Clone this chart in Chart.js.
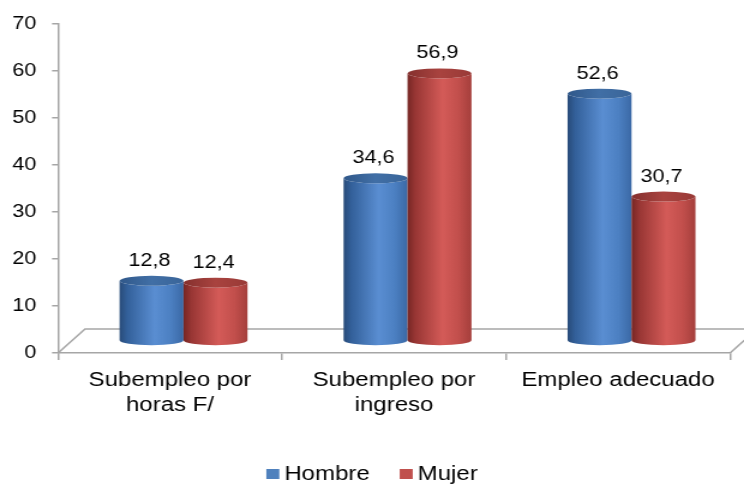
<!DOCTYPE html>
<html><head><meta charset="utf-8">
<script src="https://cdn.jsdelivr.net/npm/chart.js@4.4.1/dist/chart.umd.min.js"></script>
<style>html,body{margin:0;padding:0;background:#fff;overflow:hidden}</style>
</head><body>
<canvas id="c" width="620" height="484" style="display:block;width:744px;height:484px"></canvas>
<script>
// ---- data ----
const categories = [["Subempleo por", "horas F/"], ["Subempleo por", "ingreso"], "Empleo adecuado"];
const seriesNames = ["Hombre", "Mujer"];
const hombre = [12.8, 34.6, 52.6];
const mujer = [12.4, 56.9, 30.7];
const yTicks = [0, 10, 20, 30, 40, 50, 60, 70];

// ---- style ----
const SX = 1.2;               // horizontal stretch of the picture
const DEPTH_X = 27 / SX, DEPTH_Y = 24;
const AXIS = '#A6A6A6';
const FONT = '"Liberation Sans", Arial, sans-serif';
const legendColors = ['#4F81BD', '#C0504D'];
const bodyStops = [
  [[0, '#284B79'], [0.12, '#33609A'], [0.55, '#5A8ED2'], [0.8, '#4C80C2'], [1, '#3B69A6']],
  [[0, '#762624'], [0.12, '#983634'], [0.55, '#D45B58'], [0.8, '#C24F4C'], [1, '#A53F3C']]
];
const topStops = [
  [[0, '#30588A'], [0.5, '#416FA6'], [1, '#3A6599']],
  [[0, '#85302E'], [0.5, '#A9433F'], [1, '#993A37']]
];

Chart.defaults.font.family = FONT;
Chart.defaults.color = '#000';

function grad(ctx, x0, x1, stops) {
  const g = ctx.createLinearGradient(x0, 0, x1, 0);
  stops.forEach(([o, c]) => g.addColorStop(o, c));
  return g;
}

function drawCyl(ctx, cx, top, base, w, di) {
  const rx = w / 2, ry = 5;
  ctx.beginPath();
  ctx.moveTo(cx - rx, top);
  ctx.lineTo(cx - rx, base);
  ctx.ellipse(cx, base, rx, ry, 0, Math.PI, 0, true);
  ctx.lineTo(cx + rx, top);
  ctx.ellipse(cx, top, rx, ry, 0, 0, Math.PI, false);
  ctx.closePath();
  ctx.fillStyle = grad(ctx, cx - rx, cx + rx, bodyStops[di]);
  ctx.fill();
  ctx.beginPath();
  ctx.ellipse(cx, top, rx, ry, 0, 0, Math.PI * 2);
  ctx.fillStyle = grad(ctx, cx - rx, cx + rx, topStops[di]);
  ctx.fill();
}

const cylPlugin = {
  id: 'cyl3d',
  beforeDatasetsDraw(chart) {
    const { ctx, chartArea: { left, right, bottom } } = chart;
    ctx.save();
    // floor
    ctx.strokeStyle = AXIS;
    ctx.lineWidth = 1.5;
    ctx.beginPath();
    ctx.moveTo(left, bottom);
    ctx.lineTo(left + DEPTH_X, bottom - DEPTH_Y);
    ctx.lineTo(right + DEPTH_X, bottom - DEPTH_Y);
    ctx.moveTo(right, bottom);
    ctx.lineTo(right + DEPTH_X, bottom - DEPTH_Y);
    ctx.stroke();
    // cylinders
    const ox = DEPTH_X / 2, oy = -DEPTH_Y / 2;
    chart.data.datasets.forEach((ds, di) => {
      const meta = chart.getDatasetMeta(di);
      meta.data.forEach((el) => {
        drawCyl(ctx, el.x + ox, el.y + oy, el.base + oy, el.width, di);
      });
    });
    // labels
    ctx.fillStyle = '#000';
    ctx.font = '18px ' + FONT;
    ctx.textAlign = 'center';
    ctx.textBaseline = 'middle';
    chart.data.datasets.forEach((ds, di) => {
      const meta = chart.getDatasetMeta(di);
      meta.data.forEach((el, i) => {
        const txt = ds.data[i].toFixed(1).replace('.', ',');
        ctx.fillText(txt, el.x + ox - 2 / SX, el.y + oy - 20);
      });
    });
    ctx.restore();
    return false;
  },
  afterDraw(chart) {
    const { ctx } = chart;
    ctx.save();
    ctx.font = '20px ' + FONT;
    ctx.textBaseline = 'middle';
    const box = 13 / SX, gap = 5 / SX, itemGap = 30 / SX;
    const items = chart.data.datasets.map((ds, i) => ({ label: ds.label, color: legendColors[i], w: ctx.measureText(ds.label).width }));
    const total = items.reduce((s, it) => s + box + gap + it.w, 0) + itemGap * (items.length - 1);
    let x = chart.width / 2 - total / 2;
    const y = 474;
    items.forEach((it) => {
      ctx.fillStyle = it.color;
      ctx.fillRect(x, y - 5, box, 10);
      x += box + gap;
      ctx.fillStyle = '#000';
      ctx.fillText(it.label, x, y);
      x += it.w + itemGap;
    });
    ctx.restore();
  }
};

new Chart(document.getElementById('c'), {
  type: 'bar',
  data: {
    labels: categories,
    datasets: [
      { label: seriesNames[0], data: hombre, backgroundColor: legendColors[0] },
      { label: seriesNames[1], data: mujer, backgroundColor: legendColors[1] }
    ]
  },
  options: {
    responsive: false,
    devicePixelRatio: 1,
    animation: false,
    events: [],
    layout: { padding: { left: 0, right: 620 - 730 / SX, top: 22, bottom: 0 } },
    datasets: { bar: { categoryPercentage: 0.571, barPercentage: 1 } },
    plugins: { legend: { display: false }, tooltip: { enabled: false } },
    scales: {
      x: {
        offset: true,
        grid: { display: true, drawOnChartArea: false, drawTicks: true, tickLength: 7, color: AXIS, lineWidth: 1.5, offset: true },
        border: { display: true, color: AXIS, width: 1.5 },
        ticks: { font: { size: 20, lineHeight: 1.25 }, padding: 7.5, maxRotation: 0, autoSkip: false, color: '#000' },
        afterFit: (s) => { s.height = 484 - 353; }
      },
      y: {
        min: yTicks[0],
        max: yTicks[yTicks.length - 1],
        afterBuildTicks: (s) => { s.ticks = yTicks.map(v => ({ value: v })); },
        grid: { display: true, drawOnChartArea: false, drawTicks: true, tickLength: 5, color: AXIS, lineWidth: 1.5 },
        border: { display: true, color: AXIS, width: 1.5 },
        ticks: { font: { size: 18 }, padding: 13, color: '#000' },
        afterFit: (s) => { s.width = 58 / SX; }
      }
    }
  },
  plugins: [cylPlugin]
});
</script>
</body></html>
